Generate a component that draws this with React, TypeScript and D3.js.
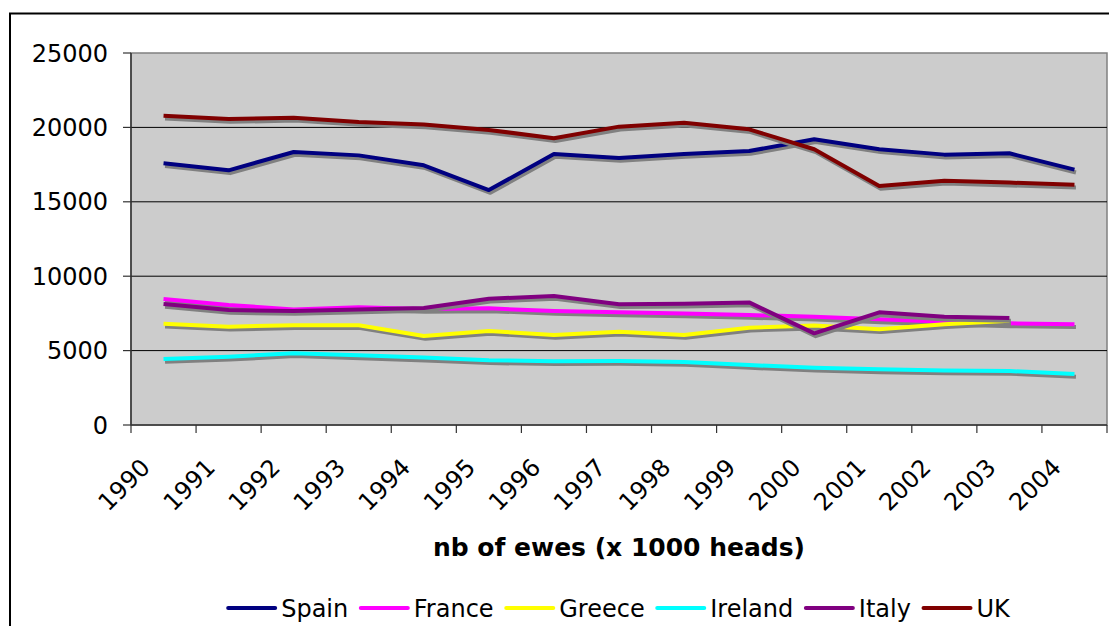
import React from "react";
import * as d3 from "d3";

const years = ["1990","1991","1992","1993","1994","1995","1996","1997","1998","1999","2000","2001","2002","2003","2004"];
const spain = [17590,17115,18350,18120,17450,15790,18210,17940,18210,18410,19200,18530,18170,18260,17160];
const france = [8470,8070,7770,7910,7800,7840,7660,7570,7500,7390,7280,7100,6940,6830,6770];
const greece: (number|null)[] = [6810,6610,6700,6700,5980,6320,6050,6270,6050,6540,6680,6430,6770,7000,null];
const ireland = [4435,4590,4820,4680,4530,4350,4280,4300,4230,4030,3850,3740,3670,3630,3430];
const italy: (number|null)[] = [8130,7730,7660,7770,7860,8490,8670,8110,8150,8240,6160,7570,7280,7190,null];
const uk = [20790,20560,20650,20360,20200,19830,19270,20050,20320,19870,18530,16060,16420,16290,16150];
const yTicks = [0,5000,10000,15000,20000,25000];

const seriesNames = ["Spain","France","Greece","Ireland","Italy","UK"];
const seriesValues = [spain, france, greece, ireland, italy, uk];
const seriesColors = ["#000080","#FF00FF","#FFFF00","#00FFFF","#800080","#800000"];

const FONT = "'DejaVu Sans', Verdana, sans-serif";

function measure(text: string, font: string): number {
  const c = document.createElement("canvas").getContext("2d");
  if (!c) return text.length * 14;
  c.font = font;
  return c.measureText(text).width;
}

export default function App() {
  const W = 1109, H = 626;
  const left = 131, right = 1107, top = 53, bottom = 425;
  const x = d3.scaleBand<string>().domain(years).range([left, right]).padding(0);
  const y = d3.scaleLinear().domain([0, 25000]).range([bottom, top]);
  const cx = (i: number) => (x(years[i]) as number) + x.bandwidth() / 2;
  const line = d3.line<number|null>()
    .defined(d => d != null)
    .x((_, i) => cx(i))
    .y(d => y(d as number));

  const legendFont = `24px ${FONT}`;
  const lineLen = 47, gapText = 6, gapItem = 12.6;
  const widths = seriesNames.map(n => measure(n, legendFont));
  const total = widths.reduce((a, w) => a + lineLen + gapText + w, 0) + gapItem * (seriesNames.length - 1);
  let lx = (left + right) / 2 - total / 2;
  const legendItems = seriesNames.map((n, i) => {
    const item = { name: n, x: lx, color: seriesColors[i] };
    lx += lineLen + gapText + widths[i] + gapItem;
    return item;
  });
  const legendY = 608;

  const boundaries = d3.range(years.length + 1).map(i => left + i * x.bandwidth());

  return (
    <svg width={W} height={H} style={{ position: "absolute", left: 0, top: 0, background: "#fff" }} fontFamily={FONT}>
      <rect x={10} y={13.5} width={W + 100} height={H + 100} fill="#fff" stroke="#000" strokeWidth={2} />
      <rect x={left} y={top} width={right - left} height={bottom - top} fill="#cccccc" stroke="#808080" strokeWidth={1.5} />
      {yTicks.filter(t => t > 0 && t < 25000).map(t => (
        <line key={t} x1={left} x2={right} y1={y(t)} y2={y(t)} stroke="#000" strokeWidth={1} />
      ))}
      {/* axes */}
      <line x1={left} x2={left} y1={top} y2={bottom} stroke="#333" strokeWidth={1.5} />
      <line x1={left} x2={right} y1={bottom} y2={bottom} stroke="#333" strokeWidth={1.5} />
      {yTicks.map(t => (
        <g key={t}>
          <line x1={left - 8} x2={left} y1={y(t)} y2={y(t)} stroke="#333" strokeWidth={1.2} />
          <text x={108} y={y(t)} dy="0.36em" textAnchor="end" fontSize={24} fill="#000">{t}</text>
        </g>
      ))}
      {boundaries.map((b, i) => (
        <line key={i} x1={b} x2={b} y1={bottom} y2={bottom + 8} stroke="#333" strokeWidth={1.2} />
      ))}
      {years.map((yr, i) => (
        <text key={yr} transform={`translate(${cx(i) - 12},${469}) rotate(-45)`} textAnchor="end" fontSize={24} fill="#000">{yr}</text>
      ))}
      {/* series: shadow then line */}
      {seriesValues.map((vals, i) => (
        <g key={seriesNames[i]}>
          <path d={line(vals) || ""} transform="translate(1.5,2.8)" fill="none" stroke="#808080" strokeWidth={4} strokeLinejoin="round" />
          <path d={line(vals) || ""} fill="none" stroke={seriesColors[i]} strokeWidth={4} strokeLinejoin="round" />
        </g>
      ))}
      <text x={(left + right) / 2} y={556} textAnchor="middle" fontSize={25} fontWeight="bold" fill="#000">nb of ewes (x 1000 heads)</text>
      {legendItems.map(it => (
        <g key={it.name}>
          <line x1={it.x} x2={it.x + lineLen} y1={legendY} y2={legendY} stroke={it.color} strokeWidth={4} strokeLinecap="round" />
          <text x={it.x + lineLen + gapText} y={legendY} dy="0.36em" fontSize={24} fill="#000">{it.name}</text>
        </g>
      ))}
    </svg>
  );
}
